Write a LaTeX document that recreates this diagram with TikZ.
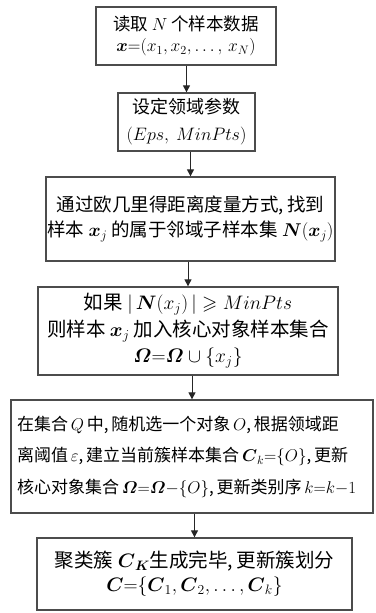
\documentclass[tikz,border=0pt]{standalone}
\usepackage{fix-cm}
\usepackage{amsmath,amssymb}
\usepackage{fontspec}
\setmainfont{Noto Sans CJK SC}
\usetikzlibrary{arrows.meta}
\newcommand{\bsym}[1]{\boldsymbol{#1}}
\begin{document}
\begin{tikzpicture}[x=1pt,y=1pt,
  box/.style={draw=black!70, line width=1.3pt, fill=white, inner sep=0pt, align=center},
  flow/.style={draw=black!85, line width=1pt, -{Triangle[width=7pt,length=7pt]}}]
\useasboundingbox (0,0) rectangle (375,-613);
\node[box, minimum width=180, minimum height=58, font=\fontsize{17.5}{21}\selectfont] (n1) at (186,-36)
  {读取 $N$ 个样本数据\\ $\bsym{x}{=}(x_1,x_2,\ldots,\,x_N)$};
\node[box, minimum width=137, minimum height=58, font=\fontsize{18}{27}\selectfont] (n2) at (186.5,-122)
  {设定领域参数\\ $(Eps,\ MinPts)$};
\node[box, minimum width=289, minimum height=84, font=\fontsize{18.5}{25}\selectfont] (n3) at (190.5,-219)
  {通过欧几里得距离度量方式,\,找到\\ 样本 $\bsym{x}_j$ 的属于邻域子样本集 $\bsym{N}(\bsym{x}_j)$};
\node[box, minimum width=300, minimum height=88, font=\fontsize{19.5}{26.5}\selectfont] (n4) at (188,-331)
  {如果 $|\,\bsym{N}(x_j)\,|\geqslant MinPts$\\ 则样本 $\bsym{x}_j$ 加入核心对象样本集合\\ $\bsym{\varOmega}{=}\bsym{\varOmega}\cup\{x_j\}$};
\node[box, minimum width=362, minimum height=113, text width=350, inner xsep=6pt, align=left, font=\fontsize{17}{31.5}\selectfont] (n5) at (192,-456.5)
  {在集合\,$Q$\,中,\,随机选一个对象\,$O$,\,根据领域距\\ 离阈值\,$\varepsilon$,\,建立当前簇样本集合\,$\bsym{C}_k{=}\{O\}$,\,更新\\ 核心对象集合\,$\bsym{\varOmega}{=}\bsym{\varOmega}{-}\{O\}$,\,更新类别序\,$k{=}k{-}1$};
\node[box, minimum width=315, minimum height=72, font=\fontsize{19.5}{24}\selectfont] (n6) at (194.5,-574)
  {聚类簇 $\bsym{C}_{\bsym{K}}$生成完毕,\,更新簇划分\\ $\bsym{C}{=}\{\bsym{C}_1,\bsym{C}_2,\ldots,\bsym{C}_k\}$};
\draw[flow] (n1.south -| n2.north) -- (n2.north);
\draw[flow] (n2.south -| n3.north) -- (n3.north);
\draw[flow] (n3.south -| n4.north) -- (n4.north);
\draw[flow] (n4.south -| n5.north) -- (n5.north);
\draw[flow] (n5.south -| n6.north) -- (n6.north);
\end{tikzpicture}
\end{document}
